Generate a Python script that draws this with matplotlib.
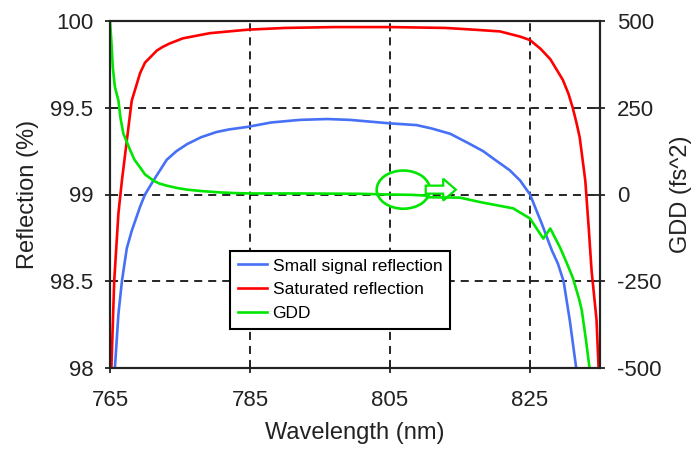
import matplotlib
matplotlib.use("Agg")
import matplotlib.pyplot as plt
import matplotlib.patches as mpatches

plt.rcParams["font.family"] = ["Liberation Sans", "DejaVu Sans"]
plt.rcParams["lines.scale_dashes"] = False
plt.rcParams["axes.unicode_minus"] = False

# small signal reflection (%)
wl_small = [765.7, 766.2, 766.7, 767.4, 768.1, 769.3, 770.0, 771.2, 773.1, 774.5,
            776.0, 778.0, 780.2, 782.0, 784.7, 788.0, 792.1, 796.0, 799.3, 805.0,
            808.8, 811.0, 813.6, 816.0, 818.3, 820.0, 822.1, 823.6, 825.0, 826.7,
            828.1, 829.0, 829.8, 830.7, 831.6]
refl_small = [98.0, 98.31, 98.5, 98.69, 98.79, 98.93, 99.0, 99.08, 99.20, 99.25,
              99.29, 99.33, 99.36, 99.375, 99.39, 99.415, 99.43, 99.435, 99.43, 99.41,
              99.40, 99.38, 99.35, 99.30, 99.25, 99.20, 99.14, 99.08, 99.0, 98.83,
              98.68, 98.60, 98.5, 98.27, 98.0]

# saturated reflection (%)
wl_sat = [765.2, 765.6, 766.2, 766.7, 767.4, 768.1, 769.3, 770.0, 771.7, 772.5,
          773.5, 775.4, 779.3, 784.7, 790.0, 797.0, 805.0, 812.9, 817.0, 820.7,
          823.6, 825.0, 826.5, 827.9, 829.7, 830.5, 831.1, 831.6, 832.1, 832.9,
          833.4, 833.8, 834.5, 834.8]
refl_sat = [98.0, 98.5, 98.89, 99.08, 99.31, 99.54, 99.70, 99.76, 99.83, 99.85,
            99.87, 99.90, 99.93, 99.95, 99.96, 99.965, 99.965, 99.96, 99.95, 99.94,
            99.91, 99.89, 99.84, 99.78, 99.66, 99.58, 99.50, 99.42, 99.33, 99.08,
            98.80, 98.56, 98.28, 98.0]

# GDD (fs^2)
wl_gdd = [765.0, 765.1, 765.2, 765.4, 765.7, 766.2, 766.5, 766.9, 767.9, 768.5,
          769.3, 770.0, 771.2, 772.0, 773.0, 774.5, 776.0, 778.0, 780.7, 783.0,
          785.0, 792.0, 800.7, 805.0, 808.0, 810.0, 810.5, 815.0, 817.9, 822.6,
          825.0, 826.9, 827.9, 829.3, 830.2, 831.1, 832.0, 832.4, 833.0, 833.5]
gdd = [500, 470, 440, 366, 310, 271, 220, 176, 127, 100,
       78, 58, 40, 32, 26, 19, 14, 10, 6, 4,
       3, 3, 2, 0, -1, -3, -8, -9, -22, -40,
       -69, -127, -98, -153, -195, -239, -300, -334, -420, -500]

x_ticks = [765, 785, 805, 825]
refl_ticks = [98, 98.5, 99, 99.5, 100]
refl_tick_labels = ["98", "98.5", "99", "99.5", "100"]
gdd_ticks = [-500, -250, 0, 250, 500]

BLUE = "#4670F5"
RED = "#FF0000"
GREEN = "#00E600"

fig = plt.figure(figsize=(6.92, 4.5), dpi=100)
ax = fig.add_axes([110 / 692, 82 / 450, 490 / 692, 347 / 450])
ax2 = ax.twinx()

l1, = ax.plot(wl_small, refl_small, color=BLUE, lw=1.9, label="Small signal reflection")
l2, = ax.plot(wl_sat, refl_sat, color=RED, lw=1.9, label="Saturated reflection")
l3, = ax2.plot(wl_gdd, gdd, color=GREEN, lw=1.9, label="GDD")

ax.set_xlim(765, 835)
ax.set_ylim(98, 100)
ax2.set_ylim(-500, 500)
ax.set_xticks(x_ticks)
ax.set_yticks(refl_ticks)
ax.set_yticklabels(refl_tick_labels)
ax2.set_yticks(gdd_ticks)

ax.grid(True, color="black", lw=1.2, linestyle=(0, (5.8, 4.3)))

for a in (ax, ax2):
    for s in a.spines.values():
        s.set_linewidth(1.5)
        s.set_color("#222222")
ax.tick_params(axis="both", labelsize=16, direction="inout", length=7, width=1.3,
               colors="#222222")
ax.tick_params(axis="y", pad=8.5)
ax.tick_params(axis="x", pad=12)
ax2.tick_params(axis="y", labelsize=16, direction="inout", length=7, width=1.3,
                pad=8.5, colors="#222222")

ax.set_xlabel("Wavelength (nm)", fontsize=17, color="#222222")
ax.xaxis.set_label_coords(0.5, (368 - 433) / 347)
ax.xaxis.label.set_va("center")
ax.set_ylabel("Reflection (%)", fontsize=17, color="#222222")
ax.yaxis.set_label_coords((28 - 110) / 490, 0.5)
ax.yaxis.label.set_va("center")
ax2.set_ylabel("GDD (fs^2)", fontsize=17, color="#222222")
ax2.yaxis.set_label_coords((681 - 110) / 490, 0.5)
ax2.yaxis.label.set_va("center")

# circle and arrow pointing to the zero GDD axis
ax2.add_patch(mpatches.Ellipse((806.9, 14), 7.6, 110, fill=False, ec=GREEN, lw=1.9))
ax2.add_patch(mpatches.FancyArrow(810.1, 14, 4.3, 0, width=23, head_width=63,
                                  head_length=1.8, length_includes_head=True,
                                  fc="white", ec=GREEN, lw=1.6))

leg = ax2.legend(handles=[l1, l2, l3], loc="lower left",
                 bbox_to_anchor=(120 / 490, 39 / 347), borderaxespad=0,
                 fontsize=12.5, handlelength=1.7, handletextpad=0.3,
                 labelspacing=0.5, borderpad=0.45, fancybox=False,
                 framealpha=1, edgecolor="black")
leg.get_frame().set_linewidth(1.5)

fig.savefig("out.png", dpi=100)
